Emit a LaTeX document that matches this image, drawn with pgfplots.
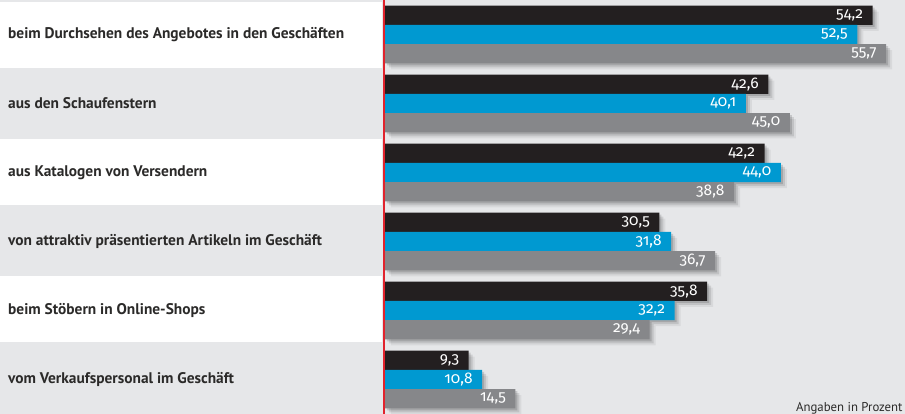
\documentclass[border=0pt]{standalone}
\usepackage{fontspec}
\setmainfont{PT Sans}
\newfontfamily\valfont[Numbers=OldStyle]{Fira Sans}
\usepackage{pgfplots}
\pgfplotsset{compat=1.18}
\definecolor{bg}{HTML}{E6E7E9}
\definecolor{cblack}{HTML}{231F20}
\definecolor{cblue}{HTML}{0099D1}
\definecolor{cgray}{HTML}{86878A}
\definecolor{cred}{HTML}{E1232D}
\definecolor{ctext}{HTML}{2B2A29}
\pgfplotstableread{
v y
54.2 0
42.6 1
42.2 2
30.5 3
35.8 4
9.3 5
}\tblack
\pgfplotstableread{
v y
52.5 0
40.1 1
44.0 2
31.8 3
32.2 4
10.8 5
}\tblue
\pgfplotstableread{
v y
55.7 0
45.0 1
38.8 2
36.7 3
29.4 4
14.5 5
}\tgray
\begin{document}
\begin{tikzpicture}
\path[use as bounding box, fill=bg] (0pt,0pt) rectangle (905pt,414pt);
\foreach \t in {412,275,138}{\fill[white] (0pt,\t pt) rectangle (382pt,\t pt-66pt);}
\begin{axis}[
  at={(385pt,0pt)}, anchor=south west,
  scale only axis, width=520pt, height=414pt,
  xmin=0, xmax=57.8, ymin=-0.5, ymax=5.5, y dir=reverse,
  xbar, bar width=19.3pt, clip=false,
  axis line style={draw=none}, major tick length=0pt,
  xtick=\empty, ytick={0,...,5},
  yticklabels={beim Durchsehen des Angebotes in den Geschäften, aus den Schaufenstern, aus Katalogen von Versendern, von attraktiv präsentierten Artikeln im Geschäft, beim Stöbern in Online-Shops, vom Verkaufspersonal im Geschäft},
  yticklabel style={anchor=west, xshift=-377pt, inner sep=0pt, text=ctext, font=\bfseries\fontsize{15.4}{17}\selectfont},
  point meta=x,
  every node near coord/.append style={anchor=east, xshift=-6pt, text=white, font=\valfont\fontsize{15.5}{16}\selectfont},
  shadowA/.style={fill=black, fill opacity=0.06, draw=none, forget plot, xshift=6pt},
  shadowB/.style={fill=black, fill opacity=0.10, draw=none, forget plot, xshift=4pt},
  shadowC/.style={fill=black, fill opacity=0.14, draw=none, forget plot, xshift=2pt},
  /pgf/number format/.cd, fixed, fixed zerofill, precision=1, use comma, assume math mode=true,
]
% shadows
\addplot[shadowA, bar shift=13.3pt] table[x=v,y=y] {\tblack};
\addplot[shadowA, bar shift=-6pt] table[x=v,y=y] {\tblue};
\addplot[shadowA, bar shift=-25.3pt] table[x=v,y=y] {\tgray};
\addplot[shadowB, bar shift=15.3pt] table[x=v,y=y] {\tblack};
\addplot[shadowB, bar shift=-4pt] table[x=v,y=y] {\tblue};
\addplot[shadowB, bar shift=-23.3pt] table[x=v,y=y] {\tgray};
\addplot[shadowC, bar shift=17.3pt] table[x=v,y=y] {\tblack};
\addplot[shadowC, bar shift=-2pt] table[x=v,y=y] {\tblue};
\addplot[shadowC, bar shift=-21.3pt] table[x=v,y=y] {\tgray};
% bars
\addplot[fill=cblack, draw=none, bar shift=19.3pt, nodes near coords] table[x=v,y=y] {\tblack};
\addplot[fill=cblue, draw=none, bar shift=0pt, nodes near coords] table[x=v,y=y] {\tblue};
\addplot[fill=cgray, draw=none, bar shift=-19.3pt, nodes near coords] table[x=v,y=y] {\tgray};
\end{axis}
\draw[cred, line width=1.6pt] (384pt,0pt) -- (384pt,414pt);
\node[anchor=base east, inner sep=0pt, text=ctext, font=\fontsize{12.8}{15}\selectfont] at (902.7pt,2.3pt) {Angaben in Prozent};
\end{tikzpicture}
\end{document}
